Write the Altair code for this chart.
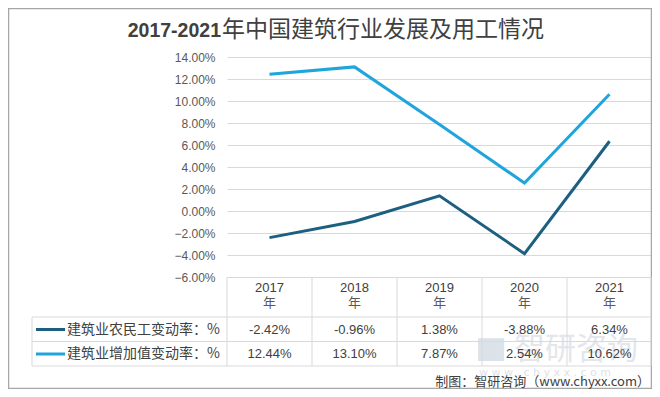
import altair as alt
import pandas as pd

years = ["2017", "2018", "2019", "2020", "2021"]
series_names = ["建筑业农民工变动率：%", "建筑业增加值变动率：%"]
migrant_rate = [-2.42, -0.96, 1.38, -3.88, 6.34]
value_added_rate = [12.44, 13.10, 7.87, 2.54, 10.62]
y_ticks = [-6, -4, -2, 0, 2, 4, 6, 8, 10, 12, 14]
title_num = "2017-2021"
title_cn = "年中国建筑行业发展及用工情况"
source_text = "制图：智研咨询（www.chyxx.com）"

DARK = "#1d5f80"
LIGHT = "#1fa5dc"
TXT = "#404040"
GRID = "#d9d9d9"
CJK = "Noto Sans CJK SC"

W, H = 425, 220
STEP = W / len(years)
ROW1_Y, ROW2_Y = 272.5, 297

rows = []
for i, y in enumerate(years):
    rows.append({"year": y, "series": series_names[0], "value": migrant_rate[i]})
    rows.append({"year": y, "series": series_names[1], "value": value_added_rate[i]})
df = pd.DataFrame(rows)
df["label"] = df["value"].map(lambda v: f"{v:.2f}%")
df_years = pd.DataFrame({"year": years})
one = pd.DataFrame({"k": [0]})

xscale = alt.Scale(type="point", padding=0.5, domain=years)
x_enc = alt.X("year:N", scale=xscale, axis=None)
cscale = alt.Scale(domain=series_names, range=[DARK, LIGHT])

frame = alt.Chart(one).mark_rect(fillOpacity=0, stroke="#a6a6a6", strokeWidth=1.5).encode(
    x=alt.value(-218.5), x2=alt.value(W - 0.5), y=alt.value(-48.5), y2=alt.value(H + 111.5)
)

wm_logo = alt.Chart(one).mark_text(
    text="▇", font=CJK, fontSize=26, color="#aab8cc", opacity=0.4, align="left", baseline="middle"
).encode(x=alt.value(251), y=alt.value(293))
wm1 = alt.Chart(one).mark_text(
    text="智研咨询", font=CJK, fontSize=31, color="#c9ced6", opacity=0.5, align="left", baseline="middle"
).encode(x=alt.value(287), y=alt.value(293))
wm2 = alt.Chart(one).mark_text(
    text="w w w . c h y x x . c o m", font="DejaVu Sans", fontSize=11, color="#c9ced6", opacity=0.6,
    align="left", baseline="middle"
).encode(x=alt.value(252), y=alt.value(316))

lines = alt.Chart(df).mark_line(strokeWidth=3).encode(
    x=x_enc,
    y=alt.Y(
        "value:Q",
        scale=alt.Scale(domain=[-6, 14], nice=False, zero=False),
        axis=alt.Axis(
            values=y_ticks, labelExpr="format(datum.value,'.2f')+'%'", grid=True, gridColor=GRID,
            gridWidth=1, domain=False, ticks=False, labelColor="#595959", labelFontSize=12,
            labelFont="Liberation Sans", labelPadding=12, title=None,
        ),
    ),
    color=alt.Color("series:N", scale=cscale, legend=None),
)

yr_top = alt.Chart(df_years).mark_text(font="Liberation Sans", fontSize=13, color=TXT, baseline="middle").encode(
    x=x_enc, y=alt.value(231), text="year:N"
)
yr_bot = alt.Chart(df_years).mark_text(text="年", font=CJK, fontSize=13, color="#595959", baseline="middle").encode(
    x=x_enc, y=alt.value(246)
)

vrules = alt.Chart(df_years).mark_rule(color=GRID, strokeWidth=1, xOffset=-STEP / 2).encode(
    x=x_enc, y=alt.value(H), y2=alt.value(309)
)
right_rule = alt.Chart(one).mark_rule(color=GRID).encode(x=alt.value(W - 1), y=alt.value(H), y2=alt.value(309))
left_rule = alt.Chart(one).mark_rule(color=GRID).encode(x=alt.value(-195), y=alt.value(260), y2=alt.value(309))
h1 = alt.Chart(one).mark_rule(color=GRID).encode(x=alt.value(-195), x2=alt.value(W - 1), y=alt.value(260))
h2 = alt.Chart(one).mark_rule(color=GRID).encode(x=alt.value(-195), x2=alt.value(W - 1), y=alt.value(284.5))
h3 = alt.Chart(one).mark_rule(color=GRID).encode(x=alt.value(-195), x2=alt.value(W - 1), y=alt.value(309))

row1 = alt.Chart(df[df["series"] == series_names[0]]).mark_text(
    font="Liberation Sans", fontSize=13, color=TXT, baseline="middle"
).encode(x=x_enc, y=alt.value(ROW1_Y), text="label:N")
row2 = alt.Chart(df[df["series"] == series_names[1]]).mark_text(
    font="Liberation Sans", fontSize=13, color=TXT, baseline="middle"
).encode(x=x_enc, y=alt.value(ROW2_Y), text="label:N")

sw1 = alt.Chart(one).mark_rule(strokeWidth=3, color=DARK).encode(
    x=alt.value(-191), x2=alt.value(-162), y=alt.value(ROW1_Y))
sw2 = alt.Chart(one).mark_rule(strokeWidth=3, color=LIGHT).encode(
    x=alt.value(-191), x2=alt.value(-162), y=alt.value(ROW2_Y))
lt1 = alt.Chart(one).mark_text(text=series_names[0], font=CJK, fontSize=14, color=TXT, align="left",
                               baseline="middle").encode(x=alt.value(-160), y=alt.value(ROW1_Y))
lt2 = alt.Chart(one).mark_text(text=series_names[1], font=CJK, fontSize=14, color=TXT, align="left",
                               baseline="middle").encode(x=alt.value(-160), y=alt.value(ROW2_Y))

t_num = alt.Chart(one).mark_text(
    text=title_num, font="Liberation Sans", fontSize=19.5, fontWeight="bold", color=TXT, align="right",
    baseline="middle"
).encode(x=alt.value(-6), y=alt.value(-26))
t_cn = alt.Chart(one).mark_text(
    text=title_cn, font=CJK, fontSize=23, fontWeight="normal", color=TXT, align="left", baseline="middle"
).encode(x=alt.value(-5), y=alt.value(-27))
source = alt.Chart(one).mark_text(
    text=source_text, font=CJK, fontSize=13, color=TXT, align="right", baseline="middle"
).encode(x=alt.value(423), y=alt.value(325))

chart = alt.layer(
    frame, wm_logo, wm1, wm2, vrules, right_rule, left_rule, h1, h2, h3, lines,
    yr_top, yr_bot, row1, row2, sw1, sw2, lt1, lt2, t_num, t_cn, source
).properties(
    width=W, height=H,
    padding={"left": 219, "top": 49, "right": 0, "bottom": 112},
    autosize=alt.AutoSizeParams(type="none"),
    background="white",
).configure_view(stroke=None)

chart.save("out.html", embed_options={"renderer": "svg", "actions": False})
